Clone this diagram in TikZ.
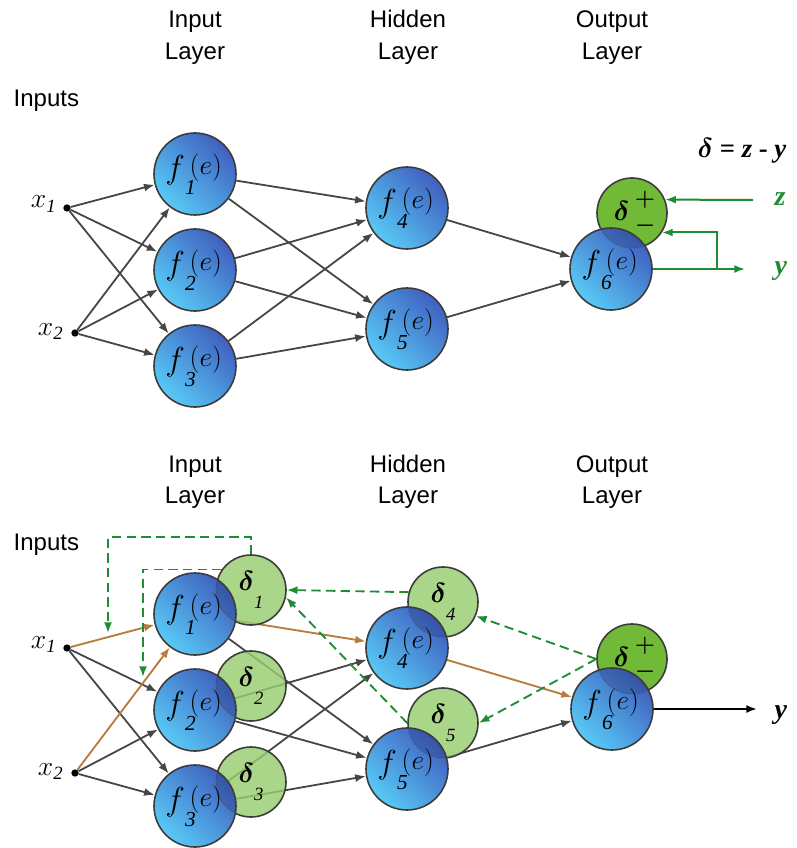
\documentclass[tikz,border=0pt]{standalone}
\usepackage{fontspec}
\usepackage{amsmath}
\setmainfont{Liberation Serif}
\newfontfamily\labfont{Liberation Sans}
\usetikzlibrary{arrows.meta,calc}
\pgfdeclarelayer{bg}
\pgfsetlayers{bg,main}
\definecolor{fdark}{RGB}{64,96,192}
\definecolor{flight}{RGB}{88,202,246}
\definecolor{gbright}{RGB}{112,186,56}
\definecolor{glight}{RGB}{150,205,110}
\definecolor{edgec}{RGB}{60,60,60}
\definecolor{arrgray}{RGB}{70,70,70}
\definecolor{brownc}{RGB}{184,124,62}
\definecolor{gline}{RGB}{30,140,50}
\newcommand{\fe}[1]{\fontsize{24}{24}\selectfont\hspace*{-2pt}$f$\makebox[0pt][l]{\raisebox{-12pt}{\fontsize{16}{16}\selectfont$\mathit{#1}$}}\hspace{3.5pt}\raisebox{3pt}{\fontsize{20}{20}\selectfont$(e)$}}
\newcommand{\dsub}[1]{\fontsize{21}{21}\selectfont\raisebox{4pt}{$\boldsymbol{\delta}$}\raisebox{-9pt}{\fontsize{14}{14}\selectfont$\mathit{#1}$}}
\newcommand{\dpm}{\fontsize{22}{22}\selectfont\hspace*{4pt}$\boldsymbol{\delta}$\hspace{4pt}\raisebox{11pt}{\makebox[0pt][l]{\fontsize{17}{17}\selectfont$\boldsymbol{+}$}}\raisebox{-8.5pt}{\fontsize{17}{17}\selectfont$\boldsymbol{-}$}}
\begin{document}
\begin{tikzpicture}[x=0.75pt,y=-0.75pt,
  fnode/.style={circle, draw=edgec, line width=1.2pt, minimum size=61.5pt, inner sep=0pt,
     top color=fdark, bottom color=flight, shading angle=-45},
  dnode/.style={circle, draw=edgec, line width=1.2pt, minimum size=52.5pt, inner sep=0pt},
  dsoft/.style={dnode, fill=glight, fill opacity=0.82, text opacity=1},
  tint/.style={path picture={\fill[fdark!60!black,opacity=0.3] (#1) circle[radius=26.25pt];
     \draw[edgec,opacity=0.3,line width=0.6pt] (#1) circle[radius=26.25pt];}},
  tip/.style={-{Latex[length=8pt,width=6pt]}},
  arr/.style={draw=arrgray, line width=1.35pt, tip},
  brn/.style={draw=brownc, line width=1.4pt, tip},
  gdash/.style={draw=gline, line width=1.4pt, dash pattern=on 7pt off 4pt, tip},
  garr/.style={draw=gline, line width=1.5pt, tip},
  barr/.style={draw=black, line width=1.5pt, tip},
  dot/.style={circle, fill=black, minimum size=5.5pt, inner sep=0pt},
  lab/.style={font=\labfont\fontsize{18}{22}\selectfont},
  xl/.style={font=\fontsize{20}{20}\selectfont},
  gl/.style={font=\fontsize{21}{21}\selectfont\bfseries\itshape, text=gline},
]
\useasboundingbox (0,0) rectangle (796,848);

% ---------------- top labels
\node[lab,anchor=base] (l1a) at (195,28) {Input};
\node[lab,anchor=base] (l1b) at (195,60) {Layer};
\node[lab,anchor=base] (l2a) at (408,28) {Hidden};
\node[lab,anchor=base] (l2b) at (408,60) {Layer};
\node[lab,anchor=base] (l3a) at (612,28) {Output};
\node[lab,anchor=base] (l3b) at (612,60) {Layer};
\node[lab,anchor=base west] (in1) at (9,107) {Inputs};

% ---------------- top network
\node[dot] (x1) at (67,208) {};
\node[dot] (x2) at (75,333) {};
\node[xl,anchor=base east] (x1l) at (61,208) {$x_{\mathit{1}}$};
\node[xl,anchor=base east] (x2l) at (68,335) {$x_{\mathit{2}}$};

\node[fnode] (f1) at (195,174) {\fe{1}};
\node[fnode] (f2) at (195,270) {\fe{2}};
\node[fnode] (f3) at (195,366) {\fe{3}};
\node[fnode] (f4) at (407,208) {\fe{4}};
\node[fnode] (f5) at (407,329) {\fe{5}};
\node[dnode, fill=gbright] (dt) at (632,213) {\dpm};
\node[fnode, tint=dt] (f6) at (611,269) {\fe{6}};

\node[anchor=base] (fm) at (742,158) {\fontsize{20}{20}\selectfont$\boldsymbol{\delta}$\textbf{ = \textit{z} - \textit{y}}};
\coordinate (zs) at (753,200);
\coordinate (ye) at (745,269);
\coordinate (br) at (717,269);
\node[gl,anchor=base west] (zl) at (770,206) {z};
\node[gl,anchor=base west] (yl) at (770,275) {y};
\draw[garr] (zs) -- (dt.22);
\draw[garr] (f6.east) -- (ye);
\draw[garr] (br) |- (dt.-33);

\begin{pgfonlayer}{bg}
\foreach \a in {x1,x2} \foreach \b in {f1,f2,f3} \draw[arr] (\a) -- (\b);
\foreach \a in {f1,f2,f3} \foreach \b in {f4,f5} \draw[arr] (\a) -- (\b);
\draw[arr] (f4) -- (f6);
\draw[arr] (f5) -- (f6);
\end{pgfonlayer}

% ---------------- bottom labels
\node[lab,anchor=base] (m1a) at (195,472) {Input};
\node[lab,anchor=base] (m1b) at (195,503) {Layer};
\node[lab,anchor=base] (m2a) at (408,472) {Hidden};
\node[lab,anchor=base] (m2b) at (408,503) {Layer};
\node[lab,anchor=base] (m3a) at (612,472) {Output};
\node[lab,anchor=base] (m3b) at (612,503) {Layer};
\node[lab,anchor=base west] (in2) at (9,550) {Inputs};

% ---------------- bottom network
\node[dot] (xb1) at (67,648) {};
\node[dot] (xb2) at (75,773) {};
\node[xl,anchor=base east] (xb1l) at (61,648) {$x_{\mathit{1}}$};
\node[xl,anchor=base east] (xb2l) at (68,775) {$x_{\mathit{2}}$};

\node[dsoft] (d1) at (251,590) {\dsub{1}};
\node[dsoft] (d2) at (251,686) {\dsub{2}};
\node[dsoft] (d3) at (251,782) {\dsub{3}};
\node[dsoft] (d4) at (443,602) {\dsub{4}};
\node[dsoft] (d5) at (443,723) {\dsub{5}};
\node[dnode, fill=gbright] (d6) at (632,659) {\dpm};

\node[fnode, tint=d1] (g1) at (195,614) {\fe{1}};
\node[fnode, tint=d2] (g2) at (195,710) {\fe{2}};
\node[fnode, tint=d3] (g3) at (195,806) {\fe{3}};
\node[fnode, tint=d4] (g4) at (407,648) {\fe{4}};
\node[fnode, tint=d5] (g5) at (407,769) {\fe{5}};
\node[fnode, tint=d6] (g6) at (612,709) {\fe{6}};

\coordinate (yb) at (757,709);
\node[font=\fontsize{21}{21}\selectfont\bfseries\itshape, anchor=base west] (ybl) at (770,718) {y};
\draw[barr] (g6.east) -- (yb);

\coordinate (b1) at (108,633);
\coordinate (b2) at (143,677);
\draw[gdash] (d6.west) -- (d4.-23);
\draw[gdash] (d6.west) -- (d5.east);
\draw[gdash] (d4.164) -- (d1.east);
\draw[gdash] (d5.west) -- (d1.-12);
\draw[gdash] (d1.north) -- ++(0,-17) -| (b1);
\draw[gdash] (d1.145) -| (b2);

\begin{pgfonlayer}{bg}
\draw[arr] (xb1) -- (g2);
\draw[arr] (xb1) -- (g3);
\draw[arr] (xb2) -- (g2);
\draw[arr] (xb2) -- (g3);
\draw[arr] (g1) -- (g5);
\draw[arr] (g2) -- (g4);
\draw[arr] (g2) -- (g5);
\draw[arr] (g3) -- (g4);
\draw[arr] (g3) -- (g5);
\draw[arr] (g5) -- (g6);
\draw[brn] (xb1) -- (g1);
\draw[brn] (xb2) -- (g1);
\draw[brn] (g1) -- (g4);
\draw[brn] (g4) -- (g6);
\end{pgfonlayer}
\end{tikzpicture}
\end{document}
